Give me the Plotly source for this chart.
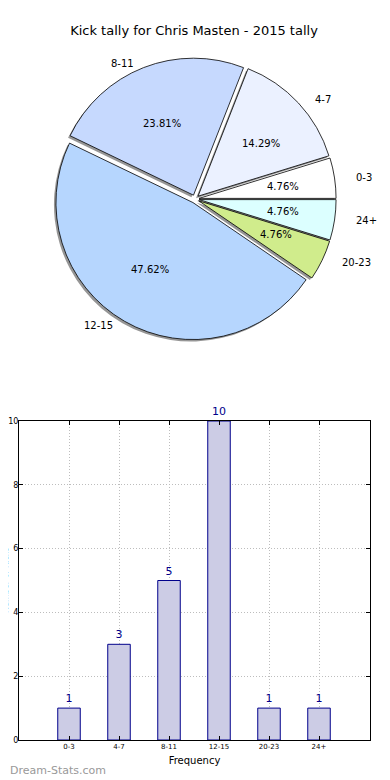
import math
import plotly.graph_objects as go

# ---- data ----
categories = ["0-3", "4-7", "8-11", "12-15", "20-23", "24+"]
values = [1, 3, 5, 10, 1, 1]
slice_colors = ["#ffffff", "#ebf1ff", "#c6d9fe", "#b6d6fe", "#d0ec8c", "#dcffff"]
title_text = "Kick tally for Chris Masten - 2015 tally"
y_label = "Number of Kicks"
x_label = "Frequency"
watermark = "Dream-Stats.com"

W, H = 390, 780
OFF = 8  # page body margin
FONT = "DejaVu Sans"

# pie geometry (reference pixels)
cx, cy = 195, 199
r = 137
pull = 0.03
half = r * (1 + pull)
rx_lab, ry_lab = 142, 129  # label ellipse (reference stretched pie)


def px_x(p):
    return (p - OFF) / W


def px_y(p):
    return 1 - (p - OFF) / H


total = sum(values)
start_rot = 90 - 360 * values[0] / total  # first slice starts at 3 o'clock, ccw

fig = go.Figure()

# shadow
fig.add_trace(go.Pie(
    labels=categories, values=values, sort=False,
    direction="counterclockwise", rotation=start_rot, pull=pull,
    marker=dict(colors=["rgba(80,80,80,0.6)"] * len(values), line=dict(width=0)),
    textinfo="none", hoverinfo="skip", showlegend=False,
    domain=dict(x=[px_x(cx - half - 2), px_x(cx + half - 2)],
                y=[px_y(cy + half + 2), px_y(cy - half + 2)]),
))

fig.add_trace(go.Pie(
    labels=categories, values=values, sort=False,
    direction="counterclockwise", rotation=start_rot, pull=pull,
    marker=dict(colors=slice_colors, line=dict(color="black", width=0.8)),
    textinfo="none", showlegend=False,
    domain=dict(x=[px_x(cx - half), px_x(cx + half)],
                y=[px_y(cy + half), px_y(cy - half)]),
))

annotations = []
cum = 0
for lab, v in zip(categories, values):
    theta = 2 * math.pi * (cum + v / 2) / total
    cum += v
    c, s = math.cos(theta), math.sin(theta)
    lx = cx + (1.1 + pull) * rx_lab * c
    ly = cy - (1.1 + pull) * ry_lab * s
    annotations.append(dict(
        x=px_x(lx), y=px_y(ly), xref="paper", yref="paper", text=lab,
        showarrow=False, xanchor="left" if c > 0 else "right", yanchor="middle",
        font=dict(family=FONT, size=10, color="black")))
    tx = cx + (0.6 + pull) * rx_lab * c
    ty = cy - (0.6 + pull) * ry_lab * s
    annotations.append(dict(
        x=px_x(tx), y=px_y(ty), xref="paper", yref="paper",
        text="%.2f%%" % (100 * v / total),
        showarrow=False, xanchor="center", yanchor="middle",
        font=dict(family=FONT, size=10, color="black")))

# bar chart
fig.add_trace(go.Bar(
    x=categories, y=values, width=0.45,
    marker=dict(color="#ccccE5", line=dict(color="#00008b", width=1)),
    text=[str(v) for v in values], textposition="outside",
    textfont=dict(family=FONT, size=11, color="#00008b"),
    cliponaxis=False, showlegend=False,
    xaxis="x", yaxis="y",
))

ax_left, ax_right, ax_top, ax_bottom = 19, 370, 421, 740

fig.update_layout(
    width=W, height=H,
    margin=dict(l=0, r=0, t=0, b=0),
    paper_bgcolor="white", plot_bgcolor="white",
    font=dict(family=FONT, color="black"),
    title=dict(text=title_text, x=(194 - OFF) / W, xanchor="center",
               y=1 - (30 - OFF) / H, yref="container", yanchor="middle",
               font=dict(family=FONT, size=13, color="black")),
    xaxis=dict(domain=[px_x(ax_left), px_x(ax_right)], range=[-1, 6.02],
               type="category",
               showline=True, mirror="ticks", linecolor="black", linewidth=1,
               ticks="inside", ticklen=4, tickcolor="black",
               showgrid=True, gridcolor="#bdbdbd", griddash="1px,2px", gridwidth=1,
               tickfont=dict(family=FONT, size=7), automargin=False,
               title=dict(text=x_label, font=dict(family=FONT, size=10), standoff=6)),
    yaxis=dict(domain=[px_y(ax_bottom), px_y(ax_top)], range=[0, 10], dtick=2,
               showline=True, mirror="ticks", linecolor="black", linewidth=1,
               ticks="inside", ticklen=4, tickcolor="black",
               showgrid=True, gridcolor="#bdbdbd", griddash="1px,2px", gridwidth=1,
               zeroline=False, ticklabelstandoff=-2,
               tickfont=dict(family=FONT, size=8), automargin=False),
)

annotations.append(dict(
    x=-3 / W, y=px_y(580), xref="paper", yref="paper", text=y_label, textangle=-90,
    showarrow=False, xanchor="center", yanchor="middle",
    font=dict(family=FONT, size=8, color="black")))
annotations.append(dict(
    x=0, y=px_y(770), xref="paper", yref="paper", text=watermark,
    showarrow=False, xanchor="left", yanchor="middle",
    font=dict(family=FONT, size=11, color="#999999")))

fig.update_layout(annotations=annotations)

fig.write_html("out.html")
